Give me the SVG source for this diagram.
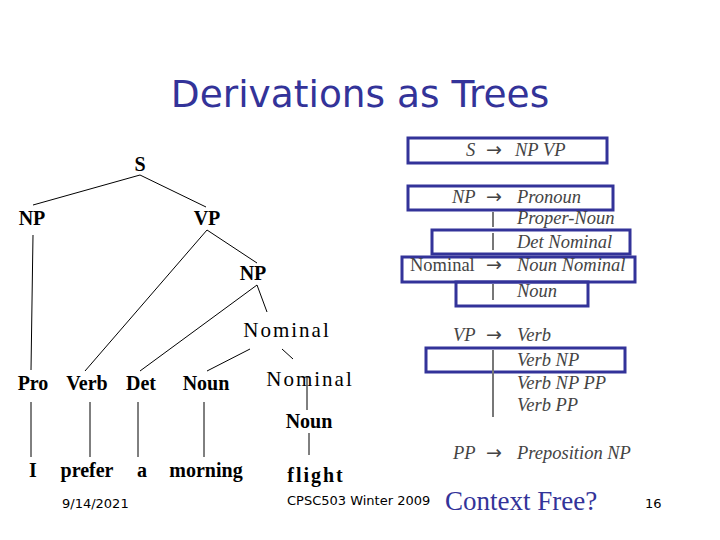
<svg xmlns="http://www.w3.org/2000/svg" width="720" height="540" viewBox="0 0 720 540">
<style>
.t{font-family:"Liberation Serif","Times New Roman",serif;font-size:20px;font-weight:bold;fill:#000;text-anchor:middle}
.tn{font-family:"Liberation Serif","Times New Roman",serif;font-size:21px;font-weight:normal;letter-spacing:2px;fill:#000;text-anchor:middle}
.e{stroke:#000;stroke-width:1;fill:none}
.g{font-family:"Liberation Serif","Times New Roman",serif;font-size:18.5px;font-style:italic;fill:#444}
.gu{font-family:"Liberation Serif","Times New Roman",serif;font-size:18.5px;fill:#444}
.ar{font-family:"DejaVu Sans","Liberation Sans",sans-serif;font-size:19px;fill:#444}
.bar{stroke:#777;stroke-width:2}
.box{fill:none;stroke:#333399;stroke-width:3}
.foot{font-family:"DejaVu Sans","Liberation Sans",sans-serif;font-size:13px;fill:#000}
</style>
<rect width="720" height="540" fill="#fff"/>
<text x="360" y="107" text-anchor="middle" font-family="DejaVu Sans,Verdana,sans-serif" font-size="37.5" fill="#333399">Derivations as Trees</text>

<g id="connectors">
<line class="e" x1="140" y1="175" x2="33" y2="205"/>
<line class="e" x1="140" y1="175" x2="206" y2="207"/>
<line class="e" x1="33" y1="235" x2="31" y2="370"/>
<line class="e" x1="207" y1="230" x2="85" y2="371"/>
<line class="e" x1="207" y1="230" x2="257" y2="263"/>
<line class="e" x1="257" y1="285" x2="140" y2="371"/>
<line class="e" x1="257" y1="285" x2="267" y2="312"/>
<line class="e" x1="250" y1="349" x2="207" y2="371"/>
<line class="e" x1="282" y1="349" x2="293" y2="359"/>
<line class="e" x1="31" y1="402" x2="31" y2="457"/>
<line class="e" x1="90" y1="402" x2="90" y2="457"/>
<line class="e" x1="138" y1="402" x2="138" y2="457"/>
<line class="e" x1="204" y1="402" x2="204" y2="457"/>
<line class="e" x1="307" y1="376" x2="307" y2="410"/>
<line class="e" x1="309" y1="433" x2="309" y2="455"/>
</g>

<g id="n-S"><text class="t" x="140" y="171">S</text></g>
<g id="n-NP1"><text class="t" x="32" y="225">NP</text></g>
<g id="n-VP"><text class="t" x="207" y="225">VP</text></g>
<g id="n-NP2"><text class="t" x="253" y="280">NP</text></g>
<g id="n-Nominal1"><text class="tn" x="287" y="337">Nominal</text></g>
<g id="n-Pro"><text class="t" x="33" y="390">Pro</text></g>
<g id="n-Verb"><text class="t" x="87" y="390">Verb</text></g>
<g id="n-Det"><text class="t" x="141" y="390">Det</text></g>
<g id="n-Noun1"><text class="t" x="206" y="390">Noun</text></g>
<g id="n-Nominal2"><text class="tn" x="310" y="386">Nominal</text></g>
<g id="n-Noun2"><text class="t" x="309" y="428">Noun</text></g>
<g id="n-I"><text class="t" x="33" y="477">I</text></g>
<g id="n-prefer"><text class="t" x="87" y="477">prefer</text></g>
<g id="n-a"><text class="t" x="142" y="477">a</text></g>
<g id="n-morning"><text class="t" x="206" y="477">morning</text></g>
<g id="n-flight"><text class="t" x="316" y="482" font-size="21" letter-spacing="2">flight</text></g>

<g id="grammar">
<rect class="box" x="408" y="138" width="199" height="25"/>
<text class="g" x="466" y="156">S</text>
<text class="ar" x="486" y="156">→</text>
<text class="g" x="515" y="156">NP VP</text>

<rect class="box" x="408" y="186" width="205" height="24"/>
<text class="g" x="452" y="203">NP</text>
<text class="ar" x="486" y="203">→</text>
<text class="g" x="517" y="203">Pronoun</text>
<line class="bar" x1="493" y1="212" x2="493" y2="227"/>
<text class="g" x="517" y="224">Proper-Noun</text>
<rect class="box" x="432" y="230" width="198" height="24"/>
<line class="bar" x1="493" y1="233" x2="493" y2="250"/>
<text class="g" x="517" y="248">Det Nominal</text>

<rect class="box" x="402" y="257" width="233" height="25"/>
<text class="gu" x="410" y="271">Nominal</text>
<text class="ar" x="486" y="271">→</text>
<text class="g" x="517" y="271">Noun Nominal</text>
<rect class="box" x="456" y="282" width="132" height="24"/>
<line class="bar" x1="493" y1="284" x2="493" y2="300"/>
<text class="g" x="517" y="297">Noun</text>

<text class="g" x="453" y="341">VP</text>
<text class="ar" x="486" y="341">→</text>
<text class="g" x="517" y="341">Verb</text>
<rect class="box" x="426" y="348" width="199" height="24"/>
<line class="bar" x1="493" y1="350" x2="493" y2="417"/>
<text class="g" x="517" y="366">Verb NP</text>
<text class="g" x="517" y="389">Verb NP PP</text>
<text class="g" x="517" y="411">Verb PP</text>

<text class="g" x="453" y="459">PP</text>
<text class="ar" x="486" y="459">→</text>
<text class="g" x="517" y="459">Preposition NP</text>
</g>

<text class="foot" x="62" y="508">9/14/2021</text>
<text class="foot" x="287" y="505">CPSC503 Winter 2009</text>
<text x="445" y="510" font-family="Liberation Serif,Times New Roman,serif" font-size="27" fill="#333399">Context Free?</text>
<text class="foot" x="645" y="508">16</text>
</svg>
